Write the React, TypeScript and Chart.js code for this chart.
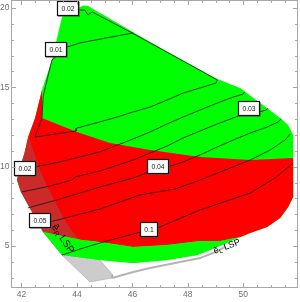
import { useEffect, useRef } from 'react';
import { Chart, registerables } from 'chart.js';
Chart.register(...registerables);

// ---- axes ----
const xRange = [41.64, 51.955];
const yRange = [2.385, 20.473];
const xTickValues = [42, 44, 46, 48, 50];
const yTickValues = [5, 10, 15, 20];
const xMinorStep = 0.5;
const yMinorStep = 1;

// ---- regions (x, y) ----
const greenRegion = [
  [43.46, 19.43], [44.22, 20.16], [44.40, 20.13], [46.64, 17.86], [48.91, 15.65], [49.42, 15.27],
  [49.89, 14.96], [50.61, 14.01], [51.33, 13.07], [51.62, 12.63], [51.80, 12.00], [51.80, 8.09],
  [51.62, 7.46], [51.33, 6.77], [50.86, 6.20], [50.25, 5.82], [49.64, 5.38], [49.06, 4.94],
  [48.34, 4.43], [47.25, 4.12], [46.03, 3.93], [44.83, 4.12], [43.46, 4.43], [42.78, 5.88],
  [41.98, 8.41], [41.84, 9.16], [41.95, 9.98], [42.09, 10.74], [42.24, 11.87], [42.49, 13.07],
  [42.74, 14.83], [43.10, 16.72],
];
const redRegion = [
  [42.74, 14.83], [42.74, 13.07], [44.00, 12.19], [45.20, 11.49], [46.64, 11.05], [48.44, 10.61],
  [50.25, 10.42], [51.80, 10.55], [51.80, 8.09], [51.62, 7.46], [51.33, 6.77], [50.86, 6.20],
  [50.25, 5.82], [49.89, 5.57], [49.17, 5.31], [48.44, 5.31], [47.25, 5.06], [46.03, 4.94],
  [44.83, 5.25], [44.18, 5.38], [42.78, 5.88], [41.98, 8.41], [41.84, 9.16], [41.95, 9.98],
  [42.09, 10.74], [42.24, 11.87], [42.49, 13.07],
];
const grayRegion = [
  [42.27, 11.81], [42.42, 10.93], [42.60, 9.98], [42.92, 8.72], [43.21, 7.71], [43.50, 6.77],
  [43.82, 5.88], [44.26, 5.00], [44.83, 4.12], [45.30, 3.17], [45.27, 2.98], [44.47, 2.73],
  [43.46, 4.43], [42.78, 5.88], [41.98, 8.41], [41.84, 9.16], [41.95, 9.98], [42.09, 10.74],
];
const greenBand = [
  [42.78, 5.88], [44.18, 5.38], [44.83, 5.25], [46.03, 4.94], [47.25, 5.06], [48.44, 5.31],
  [49.17, 5.31], [49.89, 5.57], [49.64, 5.38], [49.06, 4.94], [48.34, 4.43], [47.25, 4.12],
  [46.03, 3.93], [44.83, 4.12], [43.46, 4.43],
];
const grayEdge = [
  [45.27, 2.98], [46.03, 3.36], [46.64, 3.61], [47.54, 3.93], [48.44, 4.24], [48.99, 4.62], [49.35, 4.94],
];

// ---- contour lines ----
const contourTop = [
  [44.08, 19.87], [44.29, 19.87], [44.40, 19.56], [44.55, 19.75], [45.92, 18.49], [46.64, 17.80],
  [48.91, 15.62], [49.06, 15.46], [49.02, 15.27], [48.44, 14.96], [47.83, 14.64], [47.25, 14.20],
  [46.64, 13.76], [46.03, 13.45], [45.45, 13.13], [44.83, 12.82], [44.00, 12.44], [43.97, 12.25],
  [42.49, 11.87],
];
const contour001 = [
  [46.03, 18.43], [44.11, 17.80], [43.64, 17.54], [43.10, 16.72], [42.92, 15.46], [42.78, 14.39],
  [42.74, 13.07], [42.49, 11.87],
];
const contourA = [
  [42.49, 9.98], [43.39, 10.30], [44.83, 10.93], [46.03, 11.75], [46.64, 12.19], [47.25, 12.69],
  [47.83, 13.13], [48.44, 13.57], [49.06, 14.01], [49.64, 14.39], [50.00, 14.58], [50.04, 14.71],
];
const contourB = [
  [42.02, 8.41], [43.03, 8.78], [43.82, 9.16], [43.93, 9.35], [44.83, 9.73], [46.03, 10.42],
  [46.64, 10.86], [47.25, 11.30], [47.83, 11.81], [48.44, 12.25], [49.06, 12.69], [49.82, 13.19],
  [50.58, 13.45], [50.83, 13.57], [50.90, 13.70],
];
const contourC = [
  [42.23, 7.40], [43.39, 7.96], [44.83, 8.72], [46.03, 9.29], [46.53, 9.60], [47.29, 9.98],
  [47.83, 10.30], [48.44, 10.74], [49.06, 11.24], [49.64, 11.68], [50.25, 12.12], [50.86, 12.50],
  [51.26, 12.82], [51.37, 13.01],
];
const contourD = [
  [43.03, 6.52], [44.83, 7.33], [46.28, 8.22], [47.54, 8.59], [48.44, 9.16], [49.35, 9.79],
  [50.25, 10.42], [50.97, 11.05], [51.51, 11.68], [51.69, 12.06],
];
const contourE = [
  [43.46, 4.43], [44.22, 4.87], [44.83, 5.19], [46.28, 5.88], [46.89, 6.13], [48.44, 7.27],
  [50.25, 8.34], [51.15, 9.29], [51.80, 10.23],
];

// ---- labels ----
const contourLabelText = ['0.02', '0.01', '0.03', '0.04', '0.02', '0.05', '0.1'];
const contourLabelX = [43.69, 43.26, 50.19, 46.91, 42.11, 42.66, 46.61];
const contourLabelY = [19.91, 17.35, 13.64, 10.0, 9.86, 6.56, 5.98];

const regionLabelMain = ['ẽ', 'ẽ'];
const regionLabelSub = ['R', 'L'];
const regionLabelRest = [' LSP', ' LSP'];
const regionLabelX = [43.49, 49.41];
const regionLabelY = [5.45, 4.96];
const regionLabelAngle = [56, -20];
const regionLabelSize = [10, 9];

const FONT = "'Liberation Sans', Arial, sans-serif";

const pts = (arr: number[][]) => arr.map(([x, y]) => ({ x, y }));

const fillSet = (data: number[][], color: string, order: number, border = 'transparent', bw = 0) => ({
  data: pts(data),
  showLine: true,
  fill: 'shape',
  backgroundColor: color,
  borderColor: border,
  borderWidth: bw,
  pointRadius: 0,
  tension: 0,
  order,
});
const lineSet = (data: number[][], order: number, color = '#151515', bw = 0.8) => ({
  data: pts(data),
  showLine: true,
  fill: false,
  borderColor: color,
  borderWidth: bw,
  pointRadius: 0,
  tension: 0,
  order,
});

const overlayPlugin = {
  id: 'overlay',
  afterDatasetsDraw(chart: any) {
    const { ctx, scales } = chart;
    const xs = scales.x, ys = scales.y;
    ctx.save();
    // contour label boxes
    ctx.font = `6.8px ${FONT}`;
    ctx.textAlign = 'center';
    ctx.textBaseline = 'middle';
    for (let i = 0; i < contourLabelText.length; i++) {
      const px = Math.round(xs.getPixelForValue(contourLabelX[i]));
      const py = Math.round(ys.getPixelForValue(contourLabelY[i]));
      const tw = ctx.measureText(contourLabelText[i]).width;
      const w = Math.round(tw + 9);
      const h = 15;
      const l = px - Math.round(w / 2);
      const t = py - Math.round(h / 2);
      ctx.fillStyle = 'rgba(90,90,90,0.55)';
      ctx.fillRect(l + 1, t + 1, w, h);
      ctx.fillStyle = '#fff';
      ctx.fillRect(l, t, w, h);
      ctx.strokeStyle = '#111';
      ctx.lineWidth = 1.2;
      ctx.strokeRect(l + 0.5, t + 0.5, w - 1, h - 1);
      ctx.fillStyle = '#222';
      ctx.fillText(contourLabelText[i], px, py + 0.5);
    }
    // rotated region labels
    for (let i = 0; i < regionLabelMain.length; i++) {
      const px = xs.getPixelForValue(regionLabelX[i]);
      const py = ys.getPixelForValue(regionLabelY[i]);
      const fs = regionLabelSize[i];
      const ss = Math.round(fs * 0.65);
      ctx.save();
      ctx.translate(px, py);
      ctx.rotate((regionLabelAngle[i] * Math.PI) / 180);
      ctx.fillStyle = '#000';
      ctx.textBaseline = 'middle';
      ctx.textAlign = 'left';
      ctx.font = `${fs}px ${FONT}`;
      const w1 = ctx.measureText(regionLabelMain[i]).width;
      const w3 = ctx.measureText(regionLabelRest[i]).width;
      ctx.font = `${ss}px ${FONT}`;
      const w2 = ctx.measureText(regionLabelSub[i]).width;
      let sx = -(w1 + w2 + w3) / 2;
      ctx.font = `${fs}px ${FONT}`;
      ctx.fillText(regionLabelMain[i], sx, 0);
      sx += w1;
      ctx.font = `${ss}px ${FONT}`;
      ctx.fillText(regionLabelSub[i], sx, fs * 0.28);
      sx += w2;
      ctx.font = `${fs}px ${FONT}`;
      ctx.fillText(regionLabelRest[i], sx, 0);
      ctx.restore();
    }
    ctx.restore();
  },
  afterDraw(chart: any) {
    const { ctx, chartArea: a, scales } = chart;
    const xs = scales.x, ys = scales.y;
    ctx.save();
    ctx.strokeStyle = '#a6a6a6';
    ctx.lineWidth = 1;
    ctx.strokeRect(a.left, a.top, a.right - a.left, a.bottom - a.top);
    ctx.beginPath();
    const xStart = Math.ceil(xRange[0] / xMinorStep) * xMinorStep;
    for (let v = xStart; v <= xRange[1] + 1e-9; v += xMinorStep) {
      const major = xTickValues.some((t) => Math.abs(t - v) < 1e-6);
      const len = major ? 4.5 : 2.5;
      const p = Math.round(xs.getPixelForValue(v)) + 0.5;
      ctx.moveTo(p, a.bottom); ctx.lineTo(p, a.bottom - len);
      ctx.moveTo(p, a.top); ctx.lineTo(p, a.top + len);
    }
    const yStart = Math.ceil(yRange[0] / yMinorStep) * yMinorStep;
    for (let v = yStart; v <= yRange[1] + 1e-9; v += yMinorStep) {
      const major = yTickValues.some((t) => Math.abs(t - v) < 1e-6);
      const len = major ? 4.5 : 2.5;
      const p = Math.round(ys.getPixelForValue(v)) + 0.5;
      ctx.moveTo(a.left, p); ctx.lineTo(a.left + len, p);
      ctx.moveTo(a.right, p); ctx.lineTo(a.right - len, p);
    }
    ctx.stroke();
    ctx.restore();
  },
};

export default function App() {
  const ref = useRef<HTMLCanvasElement | null>(null);
  useEffect(() => {
    if (!ref.current) return;
    const chart = new Chart(ref.current, {
      type: 'scatter',
      data: {
        datasets: [
          fillSet(greenRegion, '#00ff00', 20),
          fillSet(redRegion, '#ff0000', 19),
          fillSet(grayRegion, 'rgba(115,115,115,0.36)', 18, 'rgba(110,110,110,0.5)', 0.6),
          fillSet(greenBand, '#00ff00', 17),
          lineSet(grayEdge, 16, '#b4b4b4', 2),
          lineSet(contourTop, 5),
          lineSet(contour001, 5),
          lineSet(contourA, 5),
          lineSet(contourB, 5),
          lineSet(contourC, 5),
          lineSet(contourD, 5),
          lineSet(contourE, 5),
        ] as any,
      },
      options: {
        responsive: false,
        animation: false,
        devicePixelRatio: 1,
        layout: { padding: { top: 0.5, right: 2.5, left: 0, bottom: 0 } },
        plugins: { legend: { display: false }, tooltip: { enabled: false } },
        scales: {
          x: {
            type: 'linear',
            min: xRange[0],
            max: xRange[1],
            grid: { display: false, drawTicks: false },
            border: { display: false },
            afterBuildTicks: (s: any) => { s.ticks = xTickValues.map((v) => ({ value: v })); },
            afterFit: (s: any) => { s.height = 14.5; s.paddingLeft = 0; s.paddingRight = 0; },
            ticks: { color: '#707070', font: { size: 8.5, family: FONT }, padding: 2, maxRotation: 0, autoSkip: false, callback: (v: any) => String(v) },
          },
          y: {
            type: 'linear',
            min: yRange[0],
            max: yRange[1],
            grid: { display: false, drawTicks: false },
            border: { display: false },
            afterBuildTicks: (s: any) => { s.ticks = yTickValues.map((v) => ({ value: v })); },
            afterFit: (s: any) => { s.width = 11.5; s.paddingTop = 0; s.paddingBottom = 0; },
            ticks: { color: '#707070', font: { size: 8.5, family: FONT }, padding: 2, autoSkip: false, callback: (v: any) => String(v) },
          },
        },
      } as any,
      plugins: [overlayPlugin],
    });
    return () => chart.destroy();
  }, []);
  return (
    <div style={{ position: 'fixed', left: 0, top: 0, width: 300, height: 302, background: '#fff' }}>
      <canvas ref={ref} width={300} height={302} style={{ display: 'block', width: 300, height: 302 }} />
    </div>
  );
}
